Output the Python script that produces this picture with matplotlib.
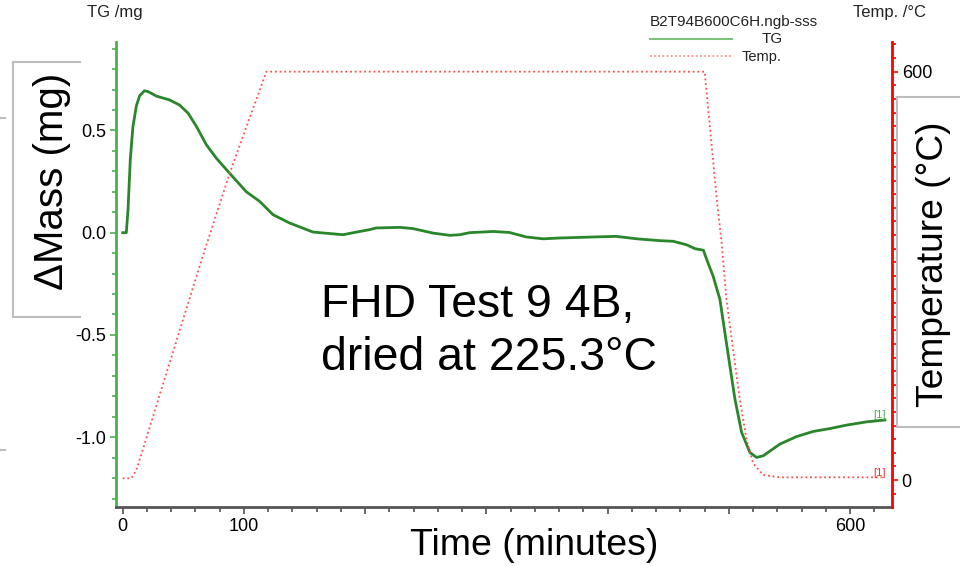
import matplotlib
matplotlib.use("Agg")
import matplotlib.pyplot as plt
from matplotlib.lines import Line2D
from matplotlib.ticker import MultipleLocator, FixedLocator, FuncFormatter

plt.rcParams['font.family'] = ['Liberation Sans', 'DejaVu Sans']

# ---- data ----
time_tg = [0, 3, 4.4, 6.3, 8.5, 11.3, 14, 18, 21, 27.8, 38.8, 47, 54, 60.8, 69, 77.3,
           88.3, 102, 113, 124, 137.8, 157, 181.8, 192.8, 203.8, 209, 228.5, 239.5,
           256, 269.8, 278, 286, 305.5, 319, 333, 346.8, 360.5, 388, 407, 424, 443,
           454, 465, 472, 479, 481.6, 487, 492.6, 496.7, 500.8, 505, 510.5, 517.3,
           522.8, 528.3, 542, 555.8, 569.5, 583.3, 597, 613.6, 628.7]
mass_tg = [0.0, 0.0, 0.11, 0.36, 0.52, 0.62, 0.67, 0.694, 0.69, 0.668, 0.649, 0.624,
           0.584, 0.52, 0.43, 0.364, 0.29, 0.20, 0.153, 0.088, 0.047, 0.003, -0.01,
           0.003, 0.015, 0.023, 0.026, 0.02, -0.002, -0.013, -0.01, 0.0, 0.006, 0.001,
           -0.021, -0.03, -0.026, -0.021, -0.018, -0.03, -0.039, -0.042, -0.059, -0.078,
           -0.086, -0.13, -0.213, -0.327, -0.49, -0.652, -0.815, -0.977, -1.075, -1.099,
           -1.091, -1.034, -0.997, -0.972, -0.958, -0.941, -0.925, -0.916]

time_temp = [0, 7, 11.3, 16.7, 30.5, 65, 88.3, 118.5, 480, 490, 494, 498, 503.5, 509,
             514.6, 520, 528.3, 542, 628]
temp = [2.5, 2.5, 14.7, 45, 125, 323, 451, 600, 600, 412, 348, 265, 191, 118, 59,
        24.5, 7.4, 4, 4]

x_labels = [0, 100, 600]
mass_labels = [0.5, 0.0, -0.5, -1.0]
temp_labels = [0, 600]

W, H = 960, 566
def fx(px): return px / W
def fy(py): return 1 - py / H

fig = plt.figure(figsize=(9.6, 5.66), dpi=100)
ax = fig.add_axes([fx(116), fy(506.7), fx(892) - fx(116), fy(42) - fy(506.7)])
ax2 = ax.twinx()

tg_color = '#2a862a'
temp_color = '#ff4d4d'

ax.plot(time_tg, mass_tg, color=tg_color, lw=2.0, zorder=3, solid_joinstyle='round')
ax2.plot(time_temp, temp, color=temp_color, lw=1.3, ls=(0, (1, 1.6)), zorder=2)

ax.set_xlim(-5.5, 634.5)
ax.set_ylim(-1.34, 0.9325)
ax2.set_ylim(-39.2, 643.6)

# x axis
ax.xaxis.set_major_locator(MultipleLocator(100))
ax.xaxis.set_minor_locator(MultipleLocator(20))
ax.xaxis.set_major_formatter(FuncFormatter(lambda v, p: f"{v:.0f}" if round(v) in x_labels else ""))
ax.tick_params(axis='x', which='major', length=5, width=1.2, color='#505050',
               labelsize=13, pad=3)
ax.tick_params(axis='x', which='minor', length=3.5, width=1.2, color='#505050')

# left axis
ax.yaxis.set_major_locator(FixedLocator(mass_labels))
ax.yaxis.set_minor_locator(MultipleLocator(0.1))
ax.yaxis.set_major_formatter(FuncFormatter(lambda v, p: f"{v:.1f}"))
ax.tick_params(axis='y', which='major', length=4, width=1.2, color='#4caf50',
               labelsize=13, pad=3)
ax.tick_params(axis='y', which='minor', length=3, width=1.2, color='#4caf50')

# right axis
ax2.yaxis.set_major_locator(FixedLocator(temp_labels))
ax2.yaxis.set_minor_locator(MultipleLocator(20))
ax2.yaxis.set_major_formatter(FuncFormatter(lambda v, p: f"{v:.0f}"))
ax2.tick_params(axis='y', which='major', length=4, width=1.2, color='#ff0000',
                labelsize=13, pad=3)
ax2.tick_params(axis='y', which='minor', length=3, width=1.2, color='#ff0000')

for a in (ax, ax2):
    a.spines['top'].set_visible(False)
    a.patch.set_visible(False)
ax.spines['right'].set_visible(False)
ax2.spines['left'].set_visible(False)
ax2.spines['bottom'].set_visible(False)
ax.spines['left'].set_color('#4caf50')
ax.spines['left'].set_linewidth(2)
ax.spines['bottom'].set_color('#555555')
ax.spines['bottom'].set_linewidth(2)
ax2.spines['right'].set_color('#ff0000')
ax2.spines['right'].set_linewidth(2)

# end markers
ax.text(619, -0.915, "[1]", color='#4caf50', fontsize=8, ha='left', va='bottom')
ax2.text(619, 3, "[1]", color='#ff3030', fontsize=8, ha='left', va='bottom')

# header texts
fig.text(fx(87), fy(13), "TG /mg", fontsize=12, ha='left', va='center', color='#222222')
fig.text(fx(853), fy(13), "Temp. /°C", fontsize=12, ha='left', va='center', color='#222222')
fig.text(fx(650), fy(22), "B2T94B600C6H.ngb-sss", fontsize=11, ha='left', va='center', color='#222222')
fig.add_artist(Line2D([fx(650), fx(732)], [fy(39), fy(39)], color='#7cc27c', lw=1.5))
fig.text(fx(762), fy(39), "TG", fontsize=11, ha='left', va='center', color='#222222')
fig.add_artist(Line2D([fx(650), fx(732)], [fy(56), fy(56)], color='#ff8080', lw=1.2, ls=(0, (1, 1.5))))
fig.text(fx(742), fy(57), "Temp.", fontsize=10.5, ha='left', va='center', color='#222222')

# big labels
fig.text(fx(534.5), fy(555), "Time (minutes)", fontsize=26.9, ha='center', va='baseline', color='black')
fig.text(fx(52), fy(181.5), "ΔMass (mg)", fontsize=29, rotation=90, ha='center', va='center', color='black')
fig.text(fx(933.5), fy(264), "Temperature (°C)", fontsize=26.7, rotation=90, ha='center', va='center', color='black')
fig.text(fx(321), fy(317), "FHD Test 9 4B,", fontsize=33.4, ha='left', va='baseline', color='black')
fig.text(fx(321), fy(370), "dried at 225.3°C", fontsize=33.4, ha='left', va='baseline', color='black')

# label boxes
box_c = '#bdbdbd'
for seg in ([(13, 62), (80, 62)], [(13, 62), (13, 317)], [(13, 317), (80, 317)],
            [(897, 97), (960, 97)], [(897, 97), (897, 427)], [(897, 427), (960, 427)],
            [(0, 118), (5, 118)], [(0, 450), (5, 450)]):
    (x0, y0), (x1, y1) = seg
    fig.add_artist(Line2D([fx(x0), fx(x1)], [fy(y0), fy(y1)], color=box_c, lw=1.5))

fig.savefig("out.png", dpi=100)
